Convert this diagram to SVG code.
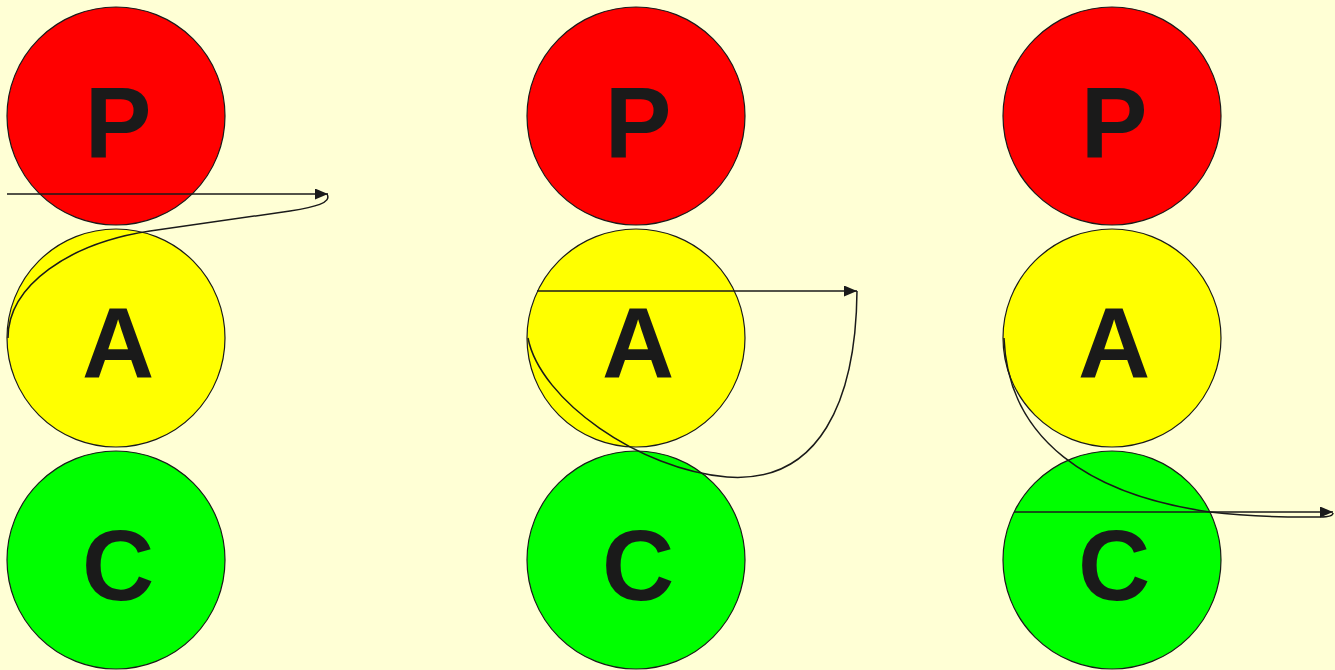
<svg xmlns="http://www.w3.org/2000/svg" width="1335" height="670" viewBox="0 0 1335 670">
  <style>
    .node circle { stroke: #1a1a1a; stroke-width: 1.2; }
    .p circle { fill: #ff0000; }
    .a circle { fill: #ffff00; }
    .c circle { fill: #00ff00; }
    .node text { font-family: "Liberation Sans", Arial, sans-serif; font-weight: bold; font-size: 100px; fill: #1a1a1a; text-anchor: middle; }
    .link { fill: none; stroke: #1a1a1a; stroke-width: 1.5; }
  </style>
  <defs>
    <marker id="arrow" markerWidth="13" markerHeight="11" refX="13" refY="5.5" orient="auto" markerUnits="userSpaceOnUse">
      <path d="M0,0 L13,5.5 L0,11 Z" fill="#1a1a1a"/>
    </marker>
  </defs>
  <rect width="1335" height="670" fill="#ffffd5"/>

  <!-- column 1 -->
  <g id="p1" class="node p"><circle cx="116" cy="116" r="109"/><text x="118" y="157">P</text></g>
  <g id="a1" class="node a"><circle cx="116" cy="338" r="109"/><text x="118" y="378">A</text></g>
  <g id="c1" class="node c"><circle cx="116" cy="560" r="109"/><text x="118" y="600">C</text></g>

  <!-- column 2 -->
  <g id="p2" class="node p"><circle cx="636" cy="116" r="109"/><text x="638" y="157">P</text></g>
  <g id="a2" class="node a"><circle cx="636" cy="338" r="109"/><text x="638" y="378">A</text></g>
  <g id="c2" class="node c"><circle cx="636" cy="560" r="109"/><text x="638" y="600">C</text></g>

  <!-- column 3 -->
  <g id="p3" class="node p"><circle cx="1112" cy="116" r="109"/><text x="1114" y="157">P</text></g>
  <g id="a3" class="node a"><circle cx="1112" cy="338" r="109"/><text x="1114" y="378">A</text></g>
  <g id="c3" class="node c"><circle cx="1112" cy="560" r="109"/><text x="1114" y="600">C</text></g>

  <g id="connectors">
    <!-- column 1: loop up to P level -->
    <path class="link" d="M8,338 C8,285 70,243 150,231 L290,211 C315,207 332,203 327,194"/>
    <path class="link" d="M7,194 L328,194" marker-end="url(#arrow)"/>
    <!-- column 2: loop back into A -->
    <path class="link" d="M528,338 C540,400 640,470 727,477 C820,484 856,400 857,291"/>
    <path class="link" d="M537,291 L857,291" marker-end="url(#arrow)"/>
    <!-- column 3: drop down to C -->
    <path class="link" d="M1004,338 C1008,440 1090,495 1210,512 C1260,518 1300,517 1320,517 C1330,517 1333,515 1333,513"/>
    <path class="link" d="M1014,512 L1333,512" marker-end="url(#arrow)"/>
  </g>
</svg>
